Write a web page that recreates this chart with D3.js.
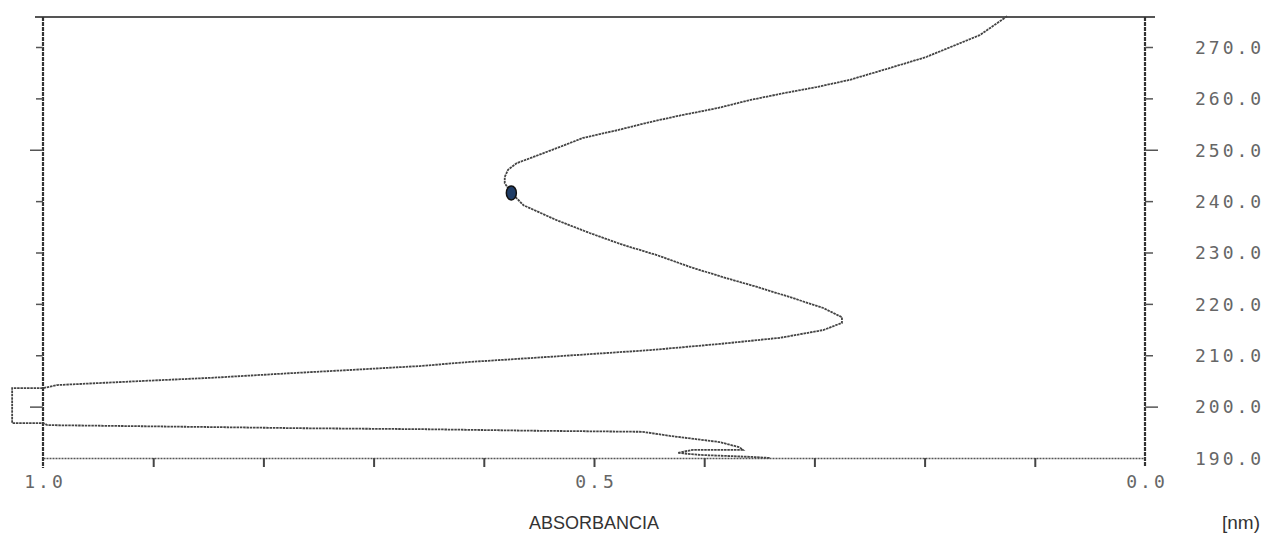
<!DOCTYPE html>
<html>
<head>
<meta charset="utf-8">
<script src="https://cdn.jsdelivr.net/npm/d3@7"></script>
<style>
  body { margin: 0; background: #fff; }
  svg { display: block; }
  .lbl { font-family: "DejaVu Sans Mono", monospace; font-size: 18px; fill: #666; letter-spacing: 3px; }
  .ttl { font-family: "Liberation Sans", Arial, sans-serif; font-size: 18px; fill: #333; }
</style>
</head>
<body>
<script>
// spectrum (nm, absorbance), in plotting order
var wavelength = [276.0, 272.3, 268.1, 267.5, 265.5, 263.6, 262.2, 261.0, 259.7, 258.1,
  256.8, 255.4, 253.8, 252.3, 250.3, 248.6, 247.4, 246.1, 244.7, 243.5,
  241.6, 239.2, 236.3, 233.8, 231.5, 229.5, 227.2, 225.2, 223.3, 221.3,
  219.2, 217.4, 216.3, 214.9, 213.4, 212.2, 211.0, 209.7, 209.1, 208.7,
  207.9, 207.1, 206.5, 205.6, 205.0, 204.2, 203.6, 203.6, 196.8, 196.8,
  196.4, 196.0, 195.8, 195.6, 195.3, 195.1, 194.3, 193.1, 192.1, 191.6,
  191.6, 191.0, 190.6, 190.2, 190.0];
var absorbance = [0.125, 0.150, 0.198, 0.207, 0.238, 0.268, 0.298, 0.328, 0.358, 0.388,
  0.419, 0.449, 0.479, 0.510, 0.534, 0.555, 0.570, 0.578, 0.581, 0.581,
  0.575, 0.564, 0.534, 0.504, 0.474, 0.443, 0.413, 0.383, 0.352, 0.322,
  0.292, 0.275, 0.275, 0.292, 0.331, 0.386, 0.449, 0.540, 0.583, 0.613,
  0.658, 0.724, 0.776, 0.848, 0.909, 0.987, 1.0, 1.028, 1.028, 1.0,
  0.996, 0.839, 0.767, 0.652, 0.552, 0.456, 0.431, 0.386, 0.368, 0.365,
  0.410, 0.424, 0.404, 0.356, 0.340];

var marker = [241.6, 0.575];

var nmTicks = [190, 200, 210, 220, 230, 240, 250, 260, 270];
var majorNm = [200, 250];
var absTicks = [1.0, 0.9, 0.8, 0.7, 0.6, 0.5, 0.4, 0.3, 0.2, 0.1, 0.0];
var absLabels = [1.0, 0.5, 0.0];

var W = 1288, H = 538;
var x = d3.scaleLinear().domain([1, 0]).range([43, 1145]);
var y = d3.scaleLinear().domain([190, 270]).range([458, 47]);
var yTop = 17;

var svg = d3.select('body').append('svg')
  .attr('width', W)
  .attr('height', H);

// frame
svg.append('line')
  .attr('x1', 35).attr('x2', 1155).attr('y1', yTop).attr('y2', yTop)
  .attr('stroke', '#555').attr('stroke-width', 2);

svg.append('line')
  .attr('x1', x(1)).attr('x2', x(1)).attr('y1', yTop).attr('y2', 468)
  .attr('stroke', '#333').attr('stroke-width', 2.2).attr('stroke-dasharray', '4,1');
svg.append('line')
  .attr('x1', x(0)).attr('x2', x(0)).attr('y1', yTop).attr('y2', 466)
  .attr('stroke', '#333').attr('stroke-width', 2.2).attr('stroke-dasharray', '4,1');

// left axis ticks
var left = svg.append('g')
  .attr('transform', `translate(${x(1)},0)`)
  .call(d3.axisLeft(y).tickValues(nmTicks.filter(d => d > 190)).tickFormat('').tickSizeOuter(0));
left.select('.domain').remove();
left.selectAll('.tick line')
  .attr('x2', d => majorNm.includes(d) ? -13 : -7)
  .attr('stroke', '#555').attr('stroke-width', 1.5);

// right axis ticks + labels
var right = svg.append('g')
  .attr('transform', `translate(${x(0)},0)`)
  .call(d3.axisRight(y).tickValues(nmTicks).tickFormat(d => d.toFixed(1)).tickSizeOuter(0).tickPadding(50));
right.select('.domain').remove();
right.selectAll('.tick line')
  .attr('x2', d => d == 190 ? 0 : (majorNm.includes(d) ? 13 : 8))
  .attr('stroke', '#555').attr('stroke-width', 1.5);
right.selectAll('.tick text')
  .attr('class', 'lbl')
  .attr('x', 50)
  .attr('dy', '0.35em');
right.attr('font-size', null).attr('font-family', null);

// bottom axis
var bottom = svg.append('g')
  .attr('transform', `translate(0,${y(190)})`)
  .call(d3.axisBottom(x).tickValues(absTicks).tickFormat('').tickSize(9).tickSizeOuter(0));
bottom.select('.domain')
  .attr('stroke', '#555').attr('stroke-width', 1.5).attr('stroke-dasharray', '2,1');
bottom.selectAll('.tick line').attr('stroke', '#444').attr('stroke-width', 2);
bottom.selectAll('.tick').filter(d => d == 1 || d == 0).select('line').remove();

svg.selectAll('.xlbl')
  .data(absLabels)
  .enter().append('text')
  .attr('class', 'lbl')
  .attr('x', d => x(d) + 2)
  .attr('y', 488)
  .attr('text-anchor', 'middle')
  .text(d => d.toFixed(1));

// spectrum
var pts = wavelength.map((w, i) => [w, absorbance[i]]);
var line = d3.line()
  .x(d => x(d[1]))
  .y(d => y(d[0]));

svg.append('path')
  .attr('d', line(pts))
  .attr('fill', 'none')
  .attr('stroke', '#444')
  .attr('stroke-width', 1.8)
  .attr('stroke-dasharray', '2.5,0.8');

svg.append('ellipse')
  .attr('cx', x(marker[1]))
  .attr('cy', y(marker[0]))
  .attr('rx', 5)
  .attr('ry', 7)
  .attr('fill', '#1f3d66')
  .attr('stroke', '#111')
  .attr('stroke-width', 1.5);

// titles
svg.append('text')
  .attr('class', 'ttl')
  .attr('x', x(0.5))
  .attr('y', 529)
  .attr('text-anchor', 'middle')
  .text('ABSORBANCIA');

svg.append('text')
  .attr('class', 'ttl')
  .attr('x', 1222)
  .attr('y', 529)
  .style('font-size', '19px')
  .text('[nm)');
</script>
</body>
</html>
